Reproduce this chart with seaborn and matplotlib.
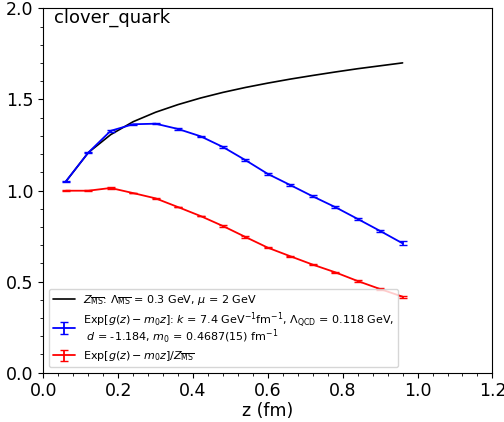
import numpy as np
import pandas as pd
import matplotlib
matplotlib.use("Agg")
import matplotlib.pyplot as plt
from matplotlib.ticker import AutoMinorLocator, MultipleLocator
import seaborn as sns

# Separation z in fm (lattice spacing 0.06 fm)
z = [0.06, 0.12, 0.18, 0.24, 0.30, 0.36, 0.42, 0.48,
     0.54, 0.60, 0.66, 0.72, 0.78, 0.84, 0.90, 0.96]

# Perturbative MS-bar factor
z_msbar = [1.049, 1.208, 1.307, 1.378, 1.430, 1.472, 1.508, 1.539,
           1.566, 1.590, 1.612, 1.632, 1.651, 1.669, 1.685, 1.701]

# Exp[g(z) - m0 z]
exp_g = [1.050, 1.208, 1.328, 1.364, 1.367, 1.338, 1.298, 1.239,
         1.167, 1.091, 1.030, 0.968, 0.909, 0.844, 0.778, 0.710]
exp_g_err = [0.003, 0.003, 0.004, 0.003, 0.003, 0.003, 0.003, 0.004,
             0.004, 0.004, 0.004, 0.005, 0.005, 0.006, 0.008, 0.011]

# Exp[g(z) - m0 z] / Z_MSbar
ratio = [0.999, 0.999, 1.014, 0.986, 0.957, 0.909, 0.860, 0.805,
         0.745, 0.686, 0.639, 0.593, 0.551, 0.503, 0.459, 0.417]
ratio_err = [0.002, 0.002, 0.003, 0.002, 0.002, 0.002, 0.002, 0.003,
             0.003, 0.003, 0.003, 0.003, 0.003, 0.004, 0.005, 0.006]

label_z = r"$Z_{\overline{\rm MS}}$: $\Lambda_{\overline{\rm MS}}$ = 0.3 GeV, $\mu$ = 2 GeV"
label_g = ("Exp[$g(z)-m_0z$]: $k$ = 7.4 GeV$^{-1}$fm$^{-1}$, $\\Lambda_{\\rm QCD}$ = 0.118 GeV,\n"
           " $d$ = -1.184, $m_0$ = 0.4687(15) fm$^{-1}$")
label_r = r"Exp[$g(z)-m_0z$]/$Z_{\overline{\rm MS}}$"

sns.set_style("ticks")
plt.rcParams["font.family"] = ["DejaVu Sans"]
plt.rcParams["mathtext.fontset"] = "dejavusans"

fig = plt.figure(figsize=(5.04, 4.22), dpi=100)
ax = fig.add_axes([0.086, 0.117, 0.891, 0.863])

df = pd.DataFrame({"z": z, "zms": z_msbar})
sns.lineplot(data=df, x="z", y="zms", color="black", linewidth=1.2,
             label=label_z, ax=ax)
ax.errorbar(z, exp_g, yerr=exp_g_err, color="blue", linewidth=1.3,
            capsize=3, elinewidth=1.3, label=label_g)
ax.errorbar(z, ratio, yerr=ratio_err, color="red", linewidth=1.3,
            capsize=3, elinewidth=1.3, label=label_r)

ax.set_xlim(0, 1.2)
ax.set_ylim(0, 2.0)
ax.xaxis.set_major_locator(MultipleLocator(0.2))
ax.yaxis.set_major_locator(MultipleLocator(0.5))
ax.xaxis.set_minor_locator(AutoMinorLocator(5))
ax.yaxis.set_minor_locator(AutoMinorLocator(5))
ax.tick_params(axis="both", which="major", labelsize=12.5, length=3.5, width=0.8,
               direction="out", color="black", labelcolor="black")
ax.tick_params(axis="both", which="minor", length=2, width=0.6, direction="out",
               color="black")
for s in ax.spines.values():
    s.set_visible(True)
    s.set_linewidth(0.8)
    s.set_color("black")

ax.set_xlabel("z (fm)", fontsize=12.5, labelpad=1, color="black")
ax.set_ylabel("")
ax.text(0.024, 1.0, "clover_quark", transform=ax.transAxes,
        fontsize=13, va="top", ha="left", color="black")

leg = ax.legend(loc="lower left", fontsize=8, labelspacing=0.3,
                borderpad=0.35, handletextpad=0.7)
for t in leg.get_texts():
    t.set_linespacing(0.85)
    t.set_color("black")

fig.savefig("out.png", dpi=100)
